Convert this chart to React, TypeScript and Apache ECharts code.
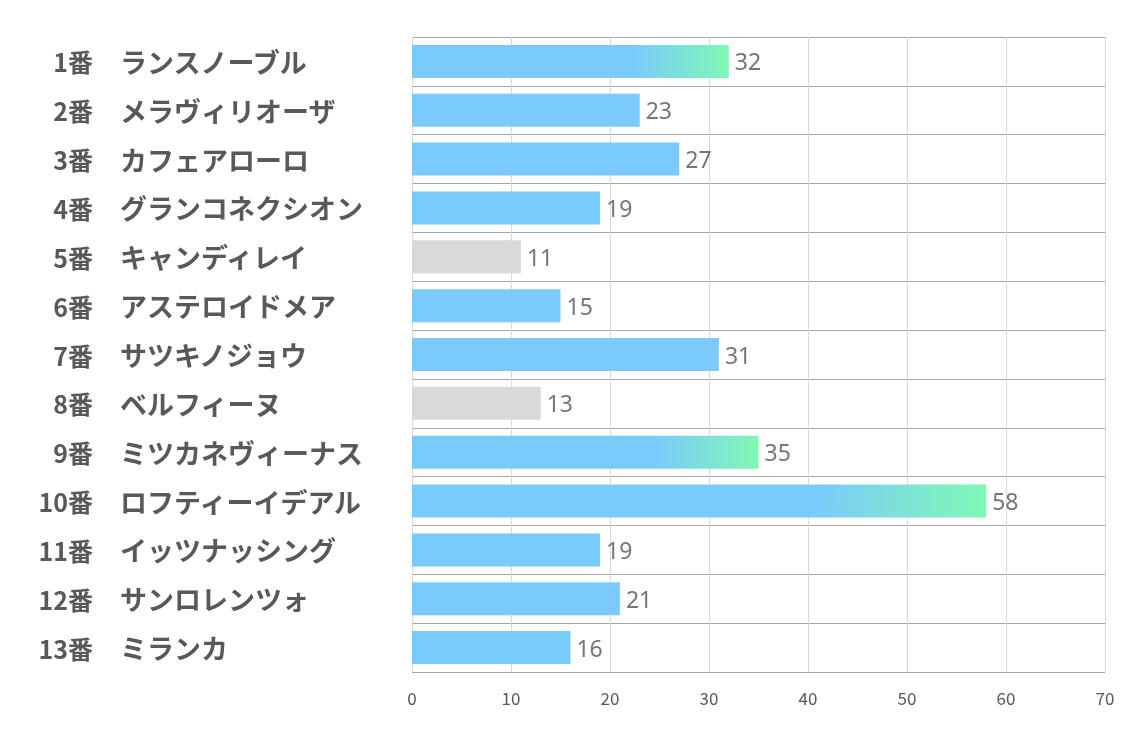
import React, { useEffect, useRef } from "react";
import * as echarts from "echarts";

const numbers = ["1番", "2番", "3番", "4番", "5番", "6番", "7番", "8番", "9番", "10番", "11番", "12番", "13番"];
const names = [
  "ランスノーブル",
  "メラヴィリオーザ",
  "カフェアローロ",
  "グランコネクシオン",
  "キャンディレイ",
  "アステロイドメア",
  "サツキノジョウ",
  "ベルフィーヌ",
  "ミツカネヴィーナス",
  "ロフティーイデアル",
  "イッツナッシング",
  "サンロレンツォ",
  "ミランカ",
];
const values = [32, 23, 27, 19, 11, 15, 31, 13, 35, 58, 19, 21, 16];
const gradientIdx = [0, 8, 9];
const grayIdx = [4, 7];
const xTicks = [0, 10, 20, 30, 40, 50, 60, 70];

const BLUE = "#7acbfc";
const GREEN = "#7ff8b4";
const GRAY = "#d9d9d9";
const LABEL_FONT = "Noto Sans CJK JP";

export default function App() {
  const ref = useRef<HTMLDivElement>(null);
  useEffect(() => {
    if (!ref.current) return;
    const chart = echarts.init(ref.current, null, { renderer: "svg" });
    const data = values.map((v, i) => {
      let color: any = BLUE;
      if (grayIdx.includes(i)) color = GRAY;
      if (gradientIdx.includes(i))
        color = new echarts.graphic.LinearGradient(0, 0, 1, 0, [
          { offset: 0, color: BLUE },
          { offset: 0.7, color: BLUE },
          { offset: 1, color: GREEN },
        ]);
      return { value: v, itemStyle: { color } };
    });
    const labelStyle = {
      fontWeight: "bold",
      color: "#595959",
      fontFamily: LABEL_FONT,
    };
    chart.setOption({
      animation: false,
      grid: { left: 412, right: 29, top: 37, bottom: 65 },
      xAxis: {
        type: "value",
        min: xTicks[0],
        max: xTicks[xTicks.length - 1],
        interval: 10,
        axisLine: { show: false },
        axisTick: { show: false },
        axisLabel: {
          margin: 17,
          fontSize: 17,
          color: "#595959",
          fontFamily: LABEL_FONT,
        },
        splitLine: { show: true, lineStyle: { color: "#d9d9d9", width: 1 } },
      },
      yAxis: [
        {
          type: "category",
          inverse: true,
          data: numbers,
          axisLine: { show: false },
          axisTick: { show: false },
          splitLine: { show: true, lineStyle: { color: "#a6a6a6", width: 1 } },
          axisLabel: { ...labelStyle, fontSize: 25, align: "right", margin: 319 },
        },
        {
          type: "category",
          inverse: true,
          position: "left",
          data: names,
          axisLine: { show: false },
          axisTick: { show: false },
          splitLine: { show: false },
          axisLabel: { ...labelStyle, fontSize: 27, align: "left", margin: 292 },
        },
      ],
      series: [
        {
          type: "bar",
          yAxisIndex: 0,
          data,
          barWidth: 33,
          label: {
            show: true,
            position: "right",
            distance: 6,
            fontSize: 23,
            color: "#767676",
            fontFamily: "Noto Sans",
          },
        },
      ],
    });
    return () => chart.dispose();
  }, []);
  return (
    <div
      ref={ref}
      style={{ position: "fixed", left: 0, top: 0, width: 1134, height: 737 }}
    />
  );
}
